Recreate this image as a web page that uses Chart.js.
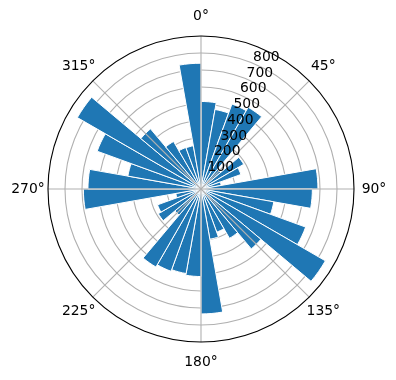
<!DOCTYPE html>
<html lang="en">
<head>
    <meta charset="UTF-8">
    <title>Polar bars</title>
    <script src="https://cdn.jsdelivr.net/npm/chart.js"></script>
    <style>
        html, body { margin: 0; padding: 0; background: #fff; }
        #wrap { width: 396px; height: 380px; }
    </style>
</head>
<body>
    <div id="wrap"><canvas id="myChart" width="396" height="380"></canvas></div>
    <script>
        // one bar for every 10 degrees, clockwise from north
        const sectors = [];
        for (let a = 0; a < 360; a += 10) sectors.push(a + '°-' + (a + 10) + '°');

        const counts = [
            515, 475, 532, 555, 150, 290, 250, 120, 688,
            655, 435, 655, 845, 460, 335, 270, 300, 735,
            515, 505, 515, 530, 200, 290, 272, 150, 692,
            665, 437, 650, 840, 462, 323, 260, 258, 740
        ];

        const angleLabels = ['0°', '45°', '90°', '135°', '180°', '225°', '270°', '315°'];
        const angleTicks = [0, 45, 90, 135, 180, 225, 270, 315];
        const radialTicks = [100, 200, 300, 400, 500, 600, 700, 800];
        const rMax = 900;

        const gridColor = '#b0b0b0';
        const font = '13.9px "DejaVu Sans"';

        const polarDecor = {
            id: 'polarDecor',
            afterDraw(chart) {
                const r = chart.scales.r;
                const c = chart.ctx;
                const xc = r.xCenter, yc = r.yCenter, R = r.drawingArea;
                c.save();
                // spokes every 45 degrees
                c.strokeStyle = gridColor;
                c.lineWidth = 1.1;
                angleTicks.forEach(deg => {
                    const t = deg * Math.PI / 180;
                    c.beginPath();
                    c.moveTo(xc, yc);
                    c.lineTo(xc + R * Math.sin(t), yc - R * Math.cos(t));
                    c.stroke();
                });
                // outer ring
                c.strokeStyle = '#000';
                c.lineWidth = 1.1;
                c.beginPath();
                c.arc(xc, yc, R, 0, Math.PI * 2);
                c.stroke();

                c.fillStyle = '#000';
                c.font = font;
                // angle labels outside the ring
                c.textAlign = 'center';
                c.textBaseline = 'middle';
                angleTicks.forEach((deg, i) => {
                    const t = deg * Math.PI / 180;
                    const d = R + 20;
                    c.fillText(angleLabels[i], xc + d * Math.sin(t), yc - d * Math.cos(t));
                });
                // radial labels along 22.5 degrees
                c.textAlign = 'left';
                c.textBaseline = 'bottom';
                const t = 22.5 * Math.PI / 180;
                radialTicks.forEach(v => {
                    const d = r.getDistanceFromCenterForValue(v);
                    c.fillText(String(v), xc + d * Math.sin(t), yc - d * Math.cos(t) + 1);
                });
                c.restore();
            }
        };

        const ctx = document.getElementById('myChart').getContext('2d');
        const myChart = new Chart(ctx, {
            type: 'polarArea',
            data: {
                labels: sectors,
                datasets: [{
                    data: counts,
                    backgroundColor: '#1f77b4',
                    borderColor: '#ffffff',
                    borderWidth: 1
                }]
            },
            options: {
                responsive: false,
                animation: false,
                layout: { padding: { left: 48, right: 42, top: 36, bottom: 38 } },
                plugins: {
                    legend: { display: false },
                    tooltip: { enabled: false }
                },
                scales: {
                    r: {
                        min: 0,
                        max: rMax,
                        z: 1,
                        ticks: { stepSize: 100, display: false },
                        grid: {
                            color: ctx => ctx.tick && ctx.tick.value === rMax ? 'rgba(0,0,0,0)' : gridColor,
                            lineWidth: 1.1
                        },
                        angleLines: { display: false },
                        pointLabels: { display: false }
                    }
                }
            },
            plugins: [polarDecor]
        });
    </script>
</body>
</html>
